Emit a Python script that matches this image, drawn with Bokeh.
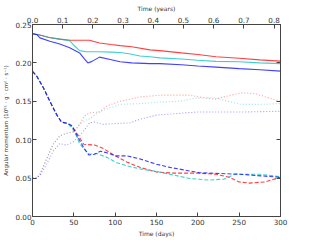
from bokeh.plotting import figure
from bokeh.models import LinearAxis, Range1d, FixedTicker, NumeralTickFormatter
from bokeh.embed import file_html
from bokeh.resources import INLINE

# ---- data (time in days, angular momentum in 1e51 g cm^2 s^-1) ----
t_solid_red = [0, 10, 20, 33, 45, 55, 69, 81, 95, 106, 120, 142, 154, 180, 200, 222, 250, 275, 300]
v_solid_red = [0.238, 0.236, 0.233, 0.231, 0.2295, 0.2295, 0.2295, 0.226, 0.224, 0.2225, 0.221, 0.217, 0.216, 0.213, 0.211, 0.208, 0.206, 0.204, 0.2023]

t_solid_cyan = [0, 10, 20, 33, 45, 51, 57, 65, 80, 95, 106, 117, 130, 142, 154, 180, 200, 222, 250, 275, 300]
v_solid_cyan = [0.238, 0.236, 0.233, 0.231, 0.229, 0.222, 0.216, 0.2145, 0.2145, 0.214, 0.2135, 0.212, 0.209, 0.208, 0.2066, 0.205, 0.2035, 0.202, 0.2015, 0.200, 0.199]

t_solid_blue = [0, 5, 9, 21, 33, 45, 57, 63, 67, 72, 81, 94, 106, 120, 142, 154, 180, 200, 222, 250, 275, 300]
v_solid_blue = [0.238, 0.237, 0.2326, 0.2283, 0.2245, 0.2196, 0.213, 0.205, 0.200, 0.202, 0.2075, 0.2045, 0.2015, 0.200, 0.199, 0.199, 0.1975, 0.196, 0.1945, 0.1925, 0.191, 0.1893]

t_dash_red = [0, 5, 13, 21, 29, 35, 43, 48, 55, 62, 75, 85, 100, 114, 130, 150, 170, 200, 222, 238, 250, 262, 281, 300]
v_dash_red = [0.189, 0.183, 0.168, 0.150, 0.133, 0.123, 0.121, 0.117, 0.106, 0.094, 0.093, 0.089, 0.079, 0.071, 0.064, 0.058, 0.0565, 0.0565, 0.055, 0.051, 0.045, 0.0435, 0.045, 0.051]

t_dash_cyan = [0, 5, 13, 21, 29, 35, 43, 48, 53, 57, 63, 69, 78, 90, 102, 114, 130, 150, 166, 190, 214, 232, 245, 275, 300]
v_dash_cyan = [0.189, 0.183, 0.168, 0.150, 0.133, 0.123, 0.121, 0.115, 0.105, 0.095, 0.087, 0.081, 0.082, 0.077, 0.070, 0.066, 0.062, 0.0586, 0.055, 0.0495, 0.0474, 0.0487, 0.055, 0.055, 0.0517]

t_dash_blue = [0, 5, 13, 21, 29, 35, 43, 48, 55, 63, 68, 75, 82, 90, 100, 114, 130, 150, 166, 202, 251, 300]
v_dash_blue = [0.189, 0.183, 0.168, 0.150, 0.133, 0.123, 0.121, 0.118, 0.103, 0.088, 0.080, 0.081, 0.085, 0.083, 0.079, 0.079, 0.075, 0.068, 0.064, 0.057, 0.055, 0.051]

t_dot_red = [0, 5, 9, 17, 25, 33, 40, 50, 57, 63, 69, 81, 90, 106, 130, 154, 190, 202, 220, 236, 253, 269, 285, 300]
v_dot_red = [0.05, 0.05, 0.055, 0.075, 0.094, 0.105, 0.108, 0.110, 0.120, 0.131, 0.135, 0.136, 0.144, 0.150, 0.1556, 0.158, 0.158, 0.1556, 0.1526, 0.157, 0.161, 0.160, 0.1547, 0.150]

t_dot_cyan = [0, 5, 9, 17, 25, 33, 40, 50, 57, 63, 69, 80, 94, 106, 130, 154, 178, 196, 220, 236, 253, 275, 300]
v_dot_cyan = [0.05, 0.05, 0.055, 0.075, 0.094, 0.105, 0.108, 0.111, 0.120, 0.125, 0.127, 0.136, 0.1417, 0.146, 0.147, 0.149, 0.150, 0.154, 0.1547, 0.150, 0.146, 0.146, 0.147]

t_dot_blue = [0, 5, 10, 17, 25, 33, 41, 49, 57, 63, 69, 75, 85, 100, 118, 130, 150, 174, 198, 250, 300]
v_dot_blue = [0.05, 0.05, 0.055, 0.068, 0.085, 0.095, 0.093, 0.097, 0.105, 0.113, 0.122, 0.123, 0.120, 0.121, 0.122, 0.1266, 0.132, 0.134, 0.136, 0.136, 0.137]

x_ticks_days = [0, 50, 100, 150, 200, 250, 300]
x_ticks_years = [0.0, 0.1, 0.2, 0.3, 0.4, 0.5, 0.6, 0.7, 0.8]
y_ticks = [0.00, 0.05, 0.10, 0.15, 0.20, 0.25]

RED, CYAN, BLUE = "#ff0000", "#00bfbf", "#0000ff"
FONT = "DejaVu Sans"

p = figure(frame_width=248, frame_height=192, output_backend="svg", toolbar_location=None,
           x_range=Range1d(0, 300), y_range=Range1d(0, 0.25),
           min_border_left=32, min_border_right=10, min_border_top=24, min_border_bottom=22)
p.extra_x_ranges = {"years": Range1d(0, 300 / 365.25)}
p.grid.visible = False
p.outline_line_color = "#444444"
p.background_fill_color = "white"

def style_axis(ax, labels=True):
    ax.major_tick_in = 4
    ax.major_tick_out = 0
    ax.minor_tick_line_color = None
    ax.axis_line_color = "#444444"
    ax.major_tick_line_color = "#444444"
    ax.major_label_text_font = FONT
    ax.major_label_text_font_size = "7.2px"
    ax.major_label_text_color = "#333333" if labels else None
    ax.major_label_standoff = 2
    ax.axis_label_text_font = FONT
    ax.axis_label_text_font_size = "6px"
    ax.axis_label_text_font_style = "normal"
    ax.axis_label_text_color = "#333333"
    ax.axis_label_standoff = 2

xa = p.xaxis[0]
xa.ticker = FixedTicker(ticks=x_ticks_days)
xa.axis_label = "Time (days)"
style_axis(xa)

ya = p.yaxis[0]
ya.ticker = FixedTicker(ticks=y_ticks)
ya.formatter = NumeralTickFormatter(format="0.00")
ya.axis_label = "Angular momentum (10\u2075\u00b9 \u00b7 g \u00b7 cm\u00b2 \u00b7 s\u207b\u00b9)"
style_axis(ya)
ya.axis_label_text_font_size = "5.5px"
ya.major_label_standoff = 1
ya.axis_label_standoff = 3

top = LinearAxis(x_range_name="years", ticker=FixedTicker(ticks=x_ticks_years),
                 formatter=NumeralTickFormatter(format="0.0"), axis_label="Time (years)")
style_axis(top)
top.axis_label_standoff = 2
p.add_layout(top, "above")

right = LinearAxis(ticker=FixedTicker(ticks=y_ticks))
style_axis(right, labels=False)
right.major_label_text_font_size = "0px"
p.add_layout(right, "right")

lw = 1.1
p.line(t_solid_red, v_solid_red, line_color=RED, line_width=lw, line_alpha=0.75)
p.line(t_solid_cyan, v_solid_cyan, line_color=CYAN, line_width=lw, line_alpha=0.75)
p.line(t_solid_blue, v_solid_blue, line_color=BLUE, line_width=lw, line_alpha=0.75)

p.line(t_dash_red, v_dash_red, line_color=RED, line_width=lw, line_alpha=0.75, line_dash="4 2")
p.line(t_dash_cyan, v_dash_cyan, line_color=CYAN, line_width=lw, line_alpha=0.75, line_dash="4 2")
p.line(t_dash_blue, v_dash_blue, line_color=BLUE, line_width=lw, line_alpha=0.75, line_dash="4 2")

p.line(t_dot_red, v_dot_red, line_color=RED, line_width=lw, line_alpha=0.4, line_dash="1 2")
p.line(t_dot_cyan, v_dot_cyan, line_color=CYAN, line_width=lw, line_alpha=0.4, line_dash="1 2")
p.line(t_dot_blue, v_dot_blue, line_color=BLUE, line_width=lw, line_alpha=0.4, line_dash="1 2")

open("out.html", "w").write(file_html(p, INLINE))
